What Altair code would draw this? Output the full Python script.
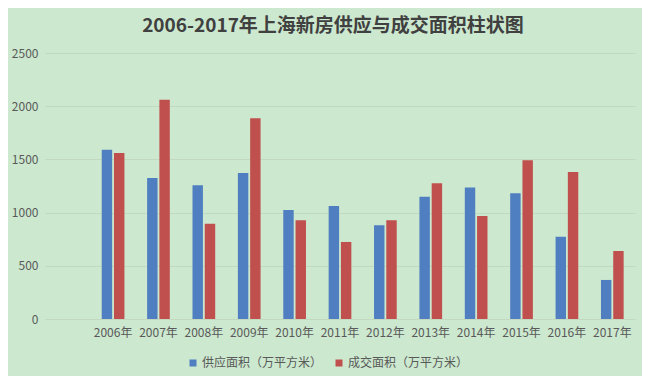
import altair as alt
import pandas as pd

years = ["2006年", "2007年", "2008年", "2009年", "2010年", "2011年",
         "2012年", "2013年", "2014年", "2015年", "2016年", "2017年"]
supply = [1590, 1325, 1256, 1372, 1024, 1062, 880, 1150, 1237, 1181, 774, 367]
deal = [1560, 2060, 896, 1886, 927, 724, 927, 1275, 968, 1491, 1382, 639]
series = ["供应面积（万平方米）", "成交面积（万平方米）"]
colors = ["#4f7fc0", "#c0504d"]

rows = []
for y, s, d in zip(years, supply, deal):
    rows.append({"year": y, "series": series[0], "value": s})
    rows.append({"year": y, "series": series[1], "value": d})
df = pd.DataFrame(rows)

font = "Noto Sans CJK SC"

chart = alt.Chart(df).mark_bar().encode(
    x=alt.X("year:N", sort=[" "] + years,
            scale=alt.Scale(domain=[" "] + years, paddingInner=0.5, paddingOuter=0.25),
            axis=alt.Axis(title=None, labelAngle=0, ticks=False, domain=False,
                          labelPadding=8, labelFontSize=12, labelColor="#595959",
                          labelFont=font, grid=False)),
    xOffset=alt.XOffset("series:N", sort=series,
                        scale=alt.Scale(paddingInner=0.15)),
    y=alt.Y("value:Q", scale=alt.Scale(domain=[0, 2500]),
            axis=alt.Axis(title=None, values=[0, 500, 1000, 1500, 2000, 2500],
                          format="d", ticks=False, domain=False, labelPadding=7,
                          labelFontSize=12, labelColor="#595959", labelFont=font,
                          gridColor="#c2d9c0", gridWidth=1)),
    color=alt.Color("series:N", sort=series,
                    scale=alt.Scale(domain=series, range=colors),
                    legend=alt.Legend(title=None, orient="none", direction="horizontal",
                                      legendX=142, legendY=304,
                                      symbolType="square", symbolSize=49,
                                      symbolStrokeWidth=0, labelFontSize=12,
                                      labelColor="#595959", labelFont=font,
                                      labelOffset=3, columnPadding=10)),
).properties(
    width=590,
    height=266,
    title=alt.TitleParams("2006-2017年上海新房供应与成交面积柱状图", fontSize=19,
                          font=font, fontWeight="bold", color="#404040",
                          anchor="middle", frame="group", offset=11, dx=-7),
    autosize=alt.AutoSizeParams(type="none"),
    padding={"left": 37, "top": 45, "right": 7, "bottom": 57},
    background="#cce8cf",
).configure_view(stroke=None)

chart.save("out.html", embed_options={"renderer": "svg", "actions": False})
